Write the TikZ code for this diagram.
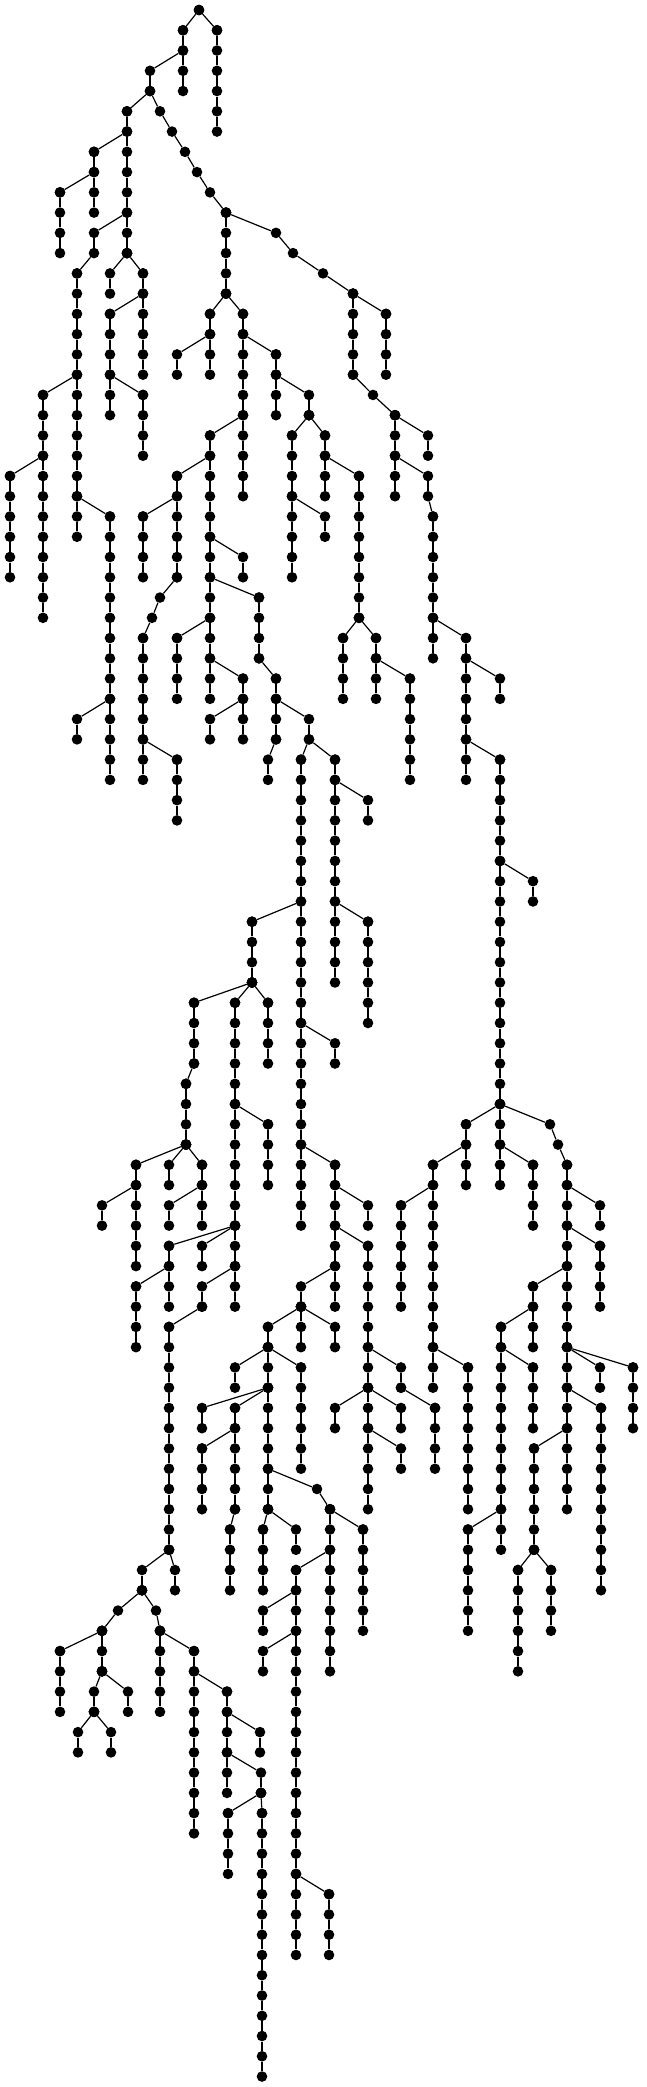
\documentclass[tikz,border=0pt]{standalone}
\tikzset{vtx/.style={circle,fill=black,draw=none,inner sep=0pt,minimum size=10.6pt},
  edg/.style={line width=1.2pt,black}}
\newcommand{\tchain}[1]{%
  \foreach \xx/\rr [count=\ii, remember=\xx as \px, remember=\rr as \pr] in {#1}{%
    \node[vtx] (v\xx-\rr) at (\xx,\rr) {};
    \ifnum\ii>1 \draw[edg] (v\px-\pr) -- (v\xx-\rr);\fi
  }}
\newcommand{\vrun}[3]{%
  \foreach \rr [count=\ii] in {#2,...,#3}{%
    \node[vtx] (v#1-\rr) at (#1,\rr) {};
    \ifnum\ii>1 \pgfmathtruncatemacro{\qq}{\rr-1}\draw[edg] (v#1-\qq) -- (v#1-\rr);\fi
  }}
\begin{document}
\begin{tikzpicture}[x=1pt,y=-20.26pt]
\useasboundingbox (0,-0.4936) rectangle (646,102.517);
\tchain{199/0,183/1}\vrun{183}{1}{4}
\tchain{199/0,217/1}\vrun{217}{1}{6}
\tchain{183/2,150/3,150/4,127/5}\vrun{127}{5}{12}
\tchain{150/4,160/5,172/6,185/7,197/8,210/9,226/10}\vrun{226}{10}{14}
\tchain{127/6,94/7}\vrun{94}{7}{10}
\tchain{94/8,60/9}\vrun{60}{9}{12}
\tchain{127/10,94/11,94/12,77/13}\vrun{77}{13}{26}
\tchain{127/12,110/13,110/14}
\tchain{127/12,143/13}\vrun{143}{13}{18}
\tchain{143/14,110/15}\vrun{110}{15}{20}
\tchain{110/18,143/19}\vrun{143}{19}{22}
\tchain{77/18,43/19}\vrun{43}{19}{30}
\tchain{43/22,10/23}\vrun{10}{23}{28}
\tchain{77/24,110/25}\vrun{110}{25}{38}
\tchain{110/34,77/35,77/36}
\tchain{226/14,210/15}\vrun{210}{15}{18}
\tchain{226/14,243/15}\vrun{243}{15}{24}
\tchain{210/16,177/17,177/18}
\tchain{243/16,276/17}\vrun{276}{17}{20}
\tchain{276/18,309/19,309/20}
\tchain{309/20,292/21}\vrun{292}{21}{28}
\tchain{309/20,325/21}\vrun{325}{21}{24}
\tchain{325/22,359/23}\vrun{359}{23}{30}
\tchain{292/24,325/25,325/26}
\tchain{243/20,210/21}\vrun{210}{21}{34}
\tchain{210/22,177/23}\vrun{177}{23}{28}
\tchain{177/24,143/25}\vrun{143}{25}{28}
\tchain{177/28,160/29,152/30,143/31}\vrun{143}{31}{38}
\tchain{143/36,177/37}\vrun{177}{37}{40}
\tchain{210/26,243/27,243/28}
\tchain{210/28,259/29}\vrun{259}{29}{32}\tchain{259/32,276/33}\vrun{276}{33}{36}\tchain{276/36,268/37,268/38}
\tchain{276/34,309/35,309/36,301/37}\vrun{301}{37}{60}
\tchain{309/36,335/37}\vrun{335}{37}{48}
\tchain{335/38,368/39,368/40}
\tchain{335/44,368/45}\vrun{368}{45}{50}
\tchain{210/30,177/31}\vrun{177}{31}{34}
\tchain{210/32,243/33}\vrun{243}{33}{36}
\tchain{243/34,210/35,210/36}
\tchain{226/10,276/11,293/12,323/13,353/14}\vrun{353}{14}{18}\tchain{353/18,373/19,395/20}\vrun{395}{20}{24}
\tchain{353/14,386/15}\vrun{386}{15}{18}
\tchain{395/20,428/21,428/22}
\tchain{395/22,428/23,428/24,433/25}\vrun{433}{25}{32}
\tchain{433/30,466/31}\vrun{466}{31}{38}
\tchain{466/32,500/33,500/34}
\tchain{466/36,500/37}\vrun{500}{37}{58}
\tchain{500/42,533/43,533/44}
\tchain{359/30,343/31}\vrun{343}{31}{34}
\tchain{359/30,376/31}\vrun{376}{31}{34}
\tchain{376/32,410/33}\vrun{410}{33}{38}
\tchain{301/44,252/45}\vrun{252}{45}{48}
\tchain{252/48,194/49}\vrun{194}{49}{52}\tchain{194/52,186/53}\vrun{186}{53}{56}
\tchain{252/48,235/49}\vrun{235}{49}{64}
\tchain{252/48,268/49}\vrun{268}{49}{52}
\tchain{301/50,335/51,335/52}
\tchain{235/54,268/55}\vrun{268}{55}{58}
\tchain{301/56,335/57}\vrun{335}{57}{64}
\tchain{335/58,368/59,368/60}
\tchain{186/56,136/57}\vrun{136}{57}{62}
\tchain{136/58,102/59,102/60}
\tchain{186/56,169/57,169/58}
\tchain{186/56,202/57}\vrun{202}{57}{60}
\tchain{202/58,169/59,169/60}
\tchain{235/60,169/61}\vrun{169}{61}{64}
\tchain{169/62,136/63}\vrun{136}{63}{66}
\tchain{235/60,202/61,202/62}
\tchain{235/62,202/63,202/64}
\tchain{202/64,169/65}\vrun{169}{65}{76}
\tchain{335/60,368/61}\vrun{368}{61}{74}
\tchain{335/62,301/63,301/64}
\tchain{301/64,268/65}\vrun{268}{65}{74}
\tchain{301/64,301/65,301/66}
\tchain{301/64,335/65,335/66}
\tchain{268/66,235/67,235/68}
\tchain{268/66,301/67}\vrun{301}{67}{72}
\tchain{268/68,202/69,202/70}
\tchain{268/68,235/69}\vrun{235}{69}{74}\tchain{235/74,230/75}\vrun{230}{75}{78}
\tchain{235/70,202/71}\vrun{202}{71}{74}
\tchain{268/72,317/73,330/74}\vrun{330}{74}{82}
\tchain{330/74,363/75}\vrun{363}{75}{80}
\tchain{268/74,263/75}\vrun{263}{75}{78}
\tchain{268/74,296/75,296/76}
\tchain{330/76,296/77}\vrun{296}{77}{96}
\tchain{296/78,263/79,263/80}
\tchain{296/80,263/81,263/82}
\tchain{296/92,329/93}\vrun{329}{93}{96}
\tchain{368/68,335/69,335/70}
\tchain{368/70,401/71,401/72}
\tchain{368/68,401/69,401/70}
\tchain{368/66,401/67,401/68}
\tchain{401/68,435/69}\vrun{435}{69}{72}
\tchain{500/54,466/55}\vrun{466}{55}{58}
\tchain{466/56,433/57}\vrun{433}{57}{68}
\tchain{433/58,401/59}\vrun{401}{59}{64}
\tchain{433/66,468/67}\vrun{468}{67}{74}
\tchain{500/54,550/55,558/56,567/57}\vrun{567}{57}{74}
\tchain{500/56,533/57}\vrun{533}{57}{60}
\tchain{567/58,600/59,600/60}
\tchain{567/60,600/61}\vrun{600}{61}{64}
\tchain{567/62,533/63}\vrun{533}{63}{66}
\tchain{533/64,501/65}\vrun{501}{65}{76}
\tchain{501/66,533/67}\vrun{533}{67}{70}
\tchain{567/66,600/67,600/68}
\tchain{567/66,633/67}\vrun{633}{67}{70}
\tchain{567/68,601/69}\vrun{601}{69}{78}
\tchain{567/70,534/71}\vrun{534}{71}{76}
\tchain{534/76,518/77}\vrun{518}{77}{82}
\tchain{534/76,551/77}\vrun{551}{77}{80}
\tchain{501/74,468/75}\vrun{468}{75}{80}
\tchain{169/76,142/77,142/78}
\tchain{169/76,175/77,175/78}
\tchain{142/78,118/79,102/80}\vrun{102}{80}{82}
\tchain{102/80,60/81}\vrun{60}{81}{84}
\tchain{102/82,94/83,94/84}
\tchain{102/82,128/83,128/84}
\tchain{94/84,78/85,78/86}
\tchain{94/84,111/85,111/86}
\tchain{142/78,156/79,160/80}\vrun{160}{80}{84}
\tchain{160/80,194/81}\vrun{194}{81}{90}
\tchain{194/82,227/83}\vrun{227}{83}{88}
\tchain{227/84,260/85,260/86}
\tchain{227/86,261/87,261/88}
\tchain{261/88,228/89}\vrun{228}{89}{92}
\tchain{261/88,262/89}\vrun{262}{89}{102}
\end{tikzpicture}
\end{document}
